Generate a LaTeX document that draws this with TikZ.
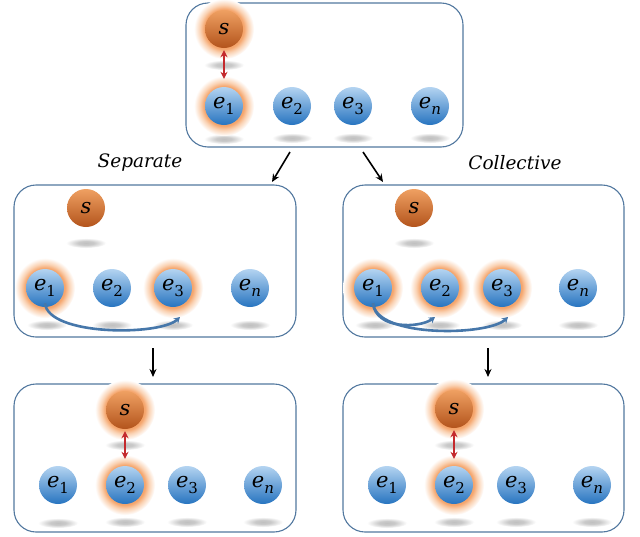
\documentclass[tikz,border=0pt]{standalone}
\usepackage{fontspec}
\newfontfamily\lblfont{DejaVu Serif}
\usetikzlibrary{arrows.meta,shapes.geometric}
\definecolor{blueL}{HTML}{B4D4F1}
\definecolor{blueD}{HTML}{2774C0}
\definecolor{oraL}{HTML}{EFA062}
\definecolor{oraD}{HTML}{B3541C}
\definecolor{glowc}{HTML}{F5A56C}
\definecolor{glowm}{HTML}{FAD2B3}
\definecolor{frame}{HTML}{52789F}
\definecolor{curve}{HTML}{4677AA}
\definecolor{redarr}{HTML}{C42A2E}
\definecolor{shadc}{HTML}{C0C0C0}
\pgfdeclareradialshading{glowsh}{\pgfpoint{0bp}{0bp}}{color(0bp)=(glowc);color(16.5bp)=(glowc);color(20bp)=(glowm);color(25bp)=(white);color(50bp)=(white)}
\pgfdeclareradialshading{shadsh}{\pgfpoint{0bp}{0bp}}{color(0bp)=(shadc);color(10bp)=(shadc!85!white);color(25bp)=(white);color(50bp)=(white)}
\newcommand\ebl[1]{\textit{e}\raisebox{-0.28em}{\fontsize{15}{15}\selectfont #1}}
\tikzset{
  ballbase/.style={circle, minimum size=38pt, inner sep=0pt, shading=axis, shading angle=45,
     font=\lblfont\fontsize{21}{22}\selectfont},
  eball/.style={ballbase, top color=blueL, bottom color=blueD},
  sball/.style={ballbase, top color=oraL, bottom color=oraD},
  glow/.style={circle, minimum size=60pt, inner sep=0pt, shading=glowsh},
  shad/.style={ellipse, minimum width=40pt, minimum height=10pt, inner sep=0pt, shading=shadsh},
  panel/.style={draw=frame, line width=1.1pt, rounded corners=22pt},
  flow/.style={-{Stealth[length=8pt,width=7pt]}, line width=1.6pt, black},
  pair/.style={{Stealth[length=7pt,width=7pt]}-{Stealth[length=7pt,width=7pt]}, line width=1.6pt, redarr},
  hop/.style={-{Stealth[length=6pt,width=7pt]}, line width=2.6pt, curve},
  lbl/.style={font=\lblfont\fontsize{18.5}{20}\selectfont\itshape}
}
\begin{document}
\begin{tikzpicture}[x=1pt,y=-1pt]
\useasboundingbox (0,0) rectangle (640,536);
\fill[white] (0,0) rectangle (640,536);
% ---------- panels ----------
\draw[panel] (186,3) rectangle (463,147);
\draw[panel] (14,185) rectangle (296,337);
\draw[panel] (343,185) rectangle (624,337);
\draw[panel] (14,384) rectangle (296,532);
\draw[panel] (343,384) rectangle (624,532);
% ---------- top panel ----------
\node[shad] (A-ss) at (224,65) {};
\node[shad] (A-1s) at (224,139) {};
\node[shad] (A-2s) at (292,138) {};
\node[shad] (A-3s) at (353,138) {};
\node[shad] (A-ns) at (430,138) {};
\node[glow] (A-sg) at (224,29) {};
\node[glow] (A-1g) at (224,106) {};
\node[sball] (A-s) at (224,29) {\textit{s}};
\node[eball] (A-e1) at (224,106) {\ebl{1}};
\node[eball] (A-e2) at (292,106) {\ebl{2}};
\node[eball] (A-e3) at (353,106) {\ebl{3}};
\node[eball] (A-en) at (430,106) {\ebl{\textit{n}}};
\draw[pair] ([yshift=-2pt]A-s.south) -- ([yshift=8pt]A-e1.north);
% ---------- middle left ----------
\node[shad] (B-ss) at (86,243) {};
\node[shad] (B-1s) at (47,325) {};
\node[shad] (B-2s) at (112,325) {};
\node[shad] (B-3s) at (173,325) {};
\node[shad] (B-ns) at (250,325) {};
\node[glow] (B-1g) at (45,288) {};
\node[glow] (B-3g) at (173,288) {};
\node[sball] (B-s) at (86,208) {\textit{s}};
\node[eball] (B-e1) at (45,288) {\ebl{1}};
\node[eball] (B-e2) at (112,288) {\ebl{2}};
\node[eball] (B-e3) at (173,288) {\ebl{3}};
\node[eball] (B-en) at (250,288) {\ebl{\textit{n}}};
\coordinate (B-t3) at (180,317);
\draw[hop] ([yshift=4pt]B-e1.south) .. controls (48,336) and (160,336) .. (B-t3);
% ---------- middle right ----------
\node[shad] (C-ss) at (414,243) {};
\node[shad] (C-1s) at (375,325) {};
\node[shad] (C-2s) at (440,325) {};
\node[shad] (C-3s) at (502,325) {};
\node[shad] (C-ns) at (578,325) {};
\node[glow] (C-1g) at (373,288) {};
\node[glow] (C-2g) at (440,288) {};
\node[glow] (C-3g) at (502,288) {};
\node[sball] (C-s) at (414,208) {\textit{s}};
\node[eball] (C-e1) at (373,288) {\ebl{1}};
\node[eball] (C-e2) at (440,288) {\ebl{2}};
\node[eball] (C-e3) at (502,288) {\ebl{3}};
\node[eball] (C-en) at (578,288) {\ebl{\textit{n}}};
\coordinate (C-t2) at (435,317);
\coordinate (C-t3) at (508,317);
\draw[hop] ([yshift=4pt]C-e1.south) .. controls (376,330) and (420,328) .. (C-t2);
\draw[hop] ([yshift=4pt]C-e1.south) .. controls (376,338) and (488,336) .. (C-t3);
% ---------- bottom left ----------
\node[shad] (D-ss) at (125,445) {};
\node[shad] (D-1s) at (58,523) {};
\node[shad] (D-2s) at (125,522) {};
\node[shad] (D-3s) at (187,522) {};
\node[shad] (D-ns) at (263,522) {};
\node[glow] (D-sg) at (125,410) {};
\node[glow] (D-2g) at (125,485) {};
\node[sball] (D-s) at (125,410) {\textit{s}};
\node[eball] (D-e1) at (58,485) {\ebl{1}};
\node[eball] (D-e2) at (125,485) {\ebl{2}};
\node[eball] (D-e3) at (187,485) {\ebl{3}};
\node[eball] (D-en) at (263,485) {\ebl{\textit{n}}};
\draw[pair] ([yshift=-2pt]D-s.south) -- ([yshift=7pt]D-e2.north);
% ---------- bottom right ----------
\node[shad] (E-ss) at (454,445) {};
\node[shad] (E-1s) at (387,523) {};
\node[shad] (E-2s) at (454,522) {};
\node[shad] (E-3s) at (516,522) {};
\node[shad] (E-ns) at (592,522) {};
\node[glow] (E-sg) at (454,409) {};
\node[glow] (E-2g) at (454,485) {};
\node[sball] (E-s) at (454,409) {\textit{s}};
\node[eball] (E-e1) at (387,485) {\ebl{1}};
\node[eball] (E-e2) at (454,485) {\ebl{2}};
\node[eball] (E-e3) at (516,485) {\ebl{3}};
\node[eball] (E-en) at (592,485) {\ebl{\textit{n}}};
\draw[pair] ([yshift=-2pt]E-s.south) -- ([yshift=7pt]E-e2.north);
% ---------- labels and flow arrows ----------
\node[lbl] (sep) at (140,163) {Separate};
\node[lbl] (col) at (515,163) {Collective};
\coordinate (fA1) at (290,152);
\coordinate (fA2) at (272,182);
\coordinate (fB1) at (363,152);
\coordinate (fB2) at (383,182);
\draw[flow] (fA1) -- (fA2);
\draw[flow] (fB1) -- (fB2);
\coordinate (fC1) at (153,348);
\coordinate (fC2) at (153,377);
\coordinate (fD1) at (488,348);
\coordinate (fD2) at (488,377);
\draw[flow] (fC1) -- (fC2);
\draw[flow] (fD1) -- (fD2);
\end{tikzpicture}
\end{document}
